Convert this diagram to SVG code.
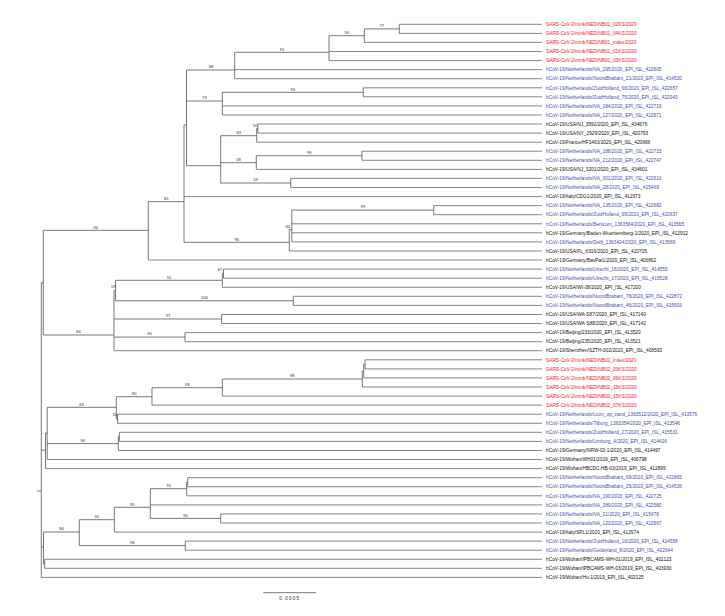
<svg xmlns="http://www.w3.org/2000/svg" width="725" height="616" viewBox="0 0 725 616">
<style>
.br{fill:none;stroke:#555;stroke-width:0.8}
.lf{fill:none;stroke:#666;stroke-width:0.8}
text{font-family:"Liberation Sans",Arial,sans-serif}
.t{font-size:4.8px}
.r{fill:#e8202a}
.b{fill:#3f51a8}
.k{fill:#111}
.s{font-size:4px;fill:#222;text-anchor:middle}
</style>
<rect width="725" height="616" fill="#fff"/>
<g id="connectors">
<path class="br" d="M399.3 24.3V33.4M364.3 28.9V42.4M329 35.7V60.6M234.7 52.3V78.7M363.3 87.8V96.8M222.3 92.3V115M257.8 124V133.1M256.7 128.5V142.2M362 151.2V160.3M256.3 155.7V169.4M290.7 178.4V187.5M220.7 135.7V183M186.5 70V165.7M184 125V242.3M433.7 205.6V214.7M291.8 210.1V241.9M289.3 229.7V251M148.3 201.7V260M223.5 269.1V278.2M222.3 273.7V287.3M293.3 296.3V305.4M115.5 280.3V300.8M221.7 314.5V323.5M185 332.6V341.7M114 290.5V350.7M43.3 230.3V335M365 359.8V368.9M363.7 364.3V377.9M362.3 371.1V387M222.3 379V396.1M152 387.7V405.1M117.5 414.2V423.3M116.3 396.7V418.7M119.3 432.3V441.4M118.3 436.8V450.5M47.2 407.3V459.5M45.5 433V468.6M187.7 477.7V486.7M186.7 482.2V495.8M220.7 513.9V523M150.3 488.7V518.4M114.3 507.3V532.1M185.3 541.1V550.2M79.3 519.7V545.6M44.7 559.3V568.3M43.5 532V563.8M41.3 282.7V577.4M36.7 491H41.3"/>
<path class="br" d="M364.3 28.9H399.3M329 35.7H364.3M234.7 52.3H329M186.5 70H234.7M222.3 92.3H363.3M186.5 101H222.3M256.7 128.5H257.8M220.7 135.7H256.7M256.3 155.7H362M220.7 162.7H256.3M220.7 183H290.7M186.5 165.7H220.7M184 125H186.5M291.8 210.1H433.7M289.3 229.7H291.8M184 242.3H289.3M148.3 201.7H184M43.3 230.3H148.3M222.3 273.7H223.5M115.5 280.3H222.3M115.5 300.8H293.3M114 290.5H115.5M114 319H221.7M114 337.1H185M43.3 335H114M41.3 282.7H43.3M363.7 364.3H365M362.3 371.1H363.7M222.3 379H362.3M152 387.7H222.3M116.3 396.7H152M116.3 418.7H117.5M47.2 407.3H116.3M118.3 436.8H119.3M47.2 443.6H118.3M45.5 433H47.2M41.3 450H45.5M186.7 482.2H187.7M150.3 488.7H186.7M150.3 518.4H220.7M114.3 507.3H150.3M79.3 519.7H114.3M79.3 545.6H185.3M43.5 532H79.3M43.5 563.8H44.7M41.3 547H43.5"/>
<path class="lf" d="M399.3 24.3H542M399.3 33.4H542M364.3 42.4H542M329 51.5H542M329 60.6H542M234.7 69.6H542M234.7 78.7H542M363.3 87.8H542M363.3 96.8H542M222.3 105.9H542M222.3 115H542M257.8 124H542M257.8 133.1H542M256.7 142.2H542M362 151.2H542M362 160.3H542M256.3 169.4H542M290.7 178.4H542M290.7 187.5H542M184 196.6H542M433.7 205.6H542M433.7 214.7H542M291.8 223.8H542M291.8 232.8H542M291.8 241.9H542M289.3 251H542M148.3 260H542M223.5 269.1H542M223.5 278.2H542M222.3 287.3H542M293.3 296.3H542M293.3 305.4H542M221.7 314.5H542M221.7 323.5H542M185 332.6H542M185 341.7H542M114 350.7H542M365 359.8H542M365 368.9H542M363.7 377.9H542M362.3 387H542M222.3 396.1H542M152 405.1H542M117.5 414.2H542M117.5 423.3H542M119.3 432.3H542M119.3 441.4H542M118.3 450.5H542M47.2 459.5H542M45.5 468.6H542M187.7 477.7H542M187.7 486.7H542M186.7 495.8H542M150.3 504.9H542M220.7 513.9H542M220.7 523H542M114.3 532.1H542M185.3 541.1H542M185.3 550.2H542M44.7 559.3H542M44.7 568.3H542M41.3 577.4H542"/>
</g>
<g id="support">
<text class="s" x="381.8" y="27.1">77</text>
<text class="s" x="346.7" y="33.9">54</text>
<text class="s" x="281.9" y="50.5">91</text>
<text class="s" x="210.9" y="68.2">68</text>
<text class="s" x="292.8" y="90.5">93</text>
<text class="s" x="204.5" y="99.2">73</text>
<text class="s" x="255" y="126.5">50</text>
<text class="s" x="238.7" y="133.9">63</text>
<text class="s" x="309.2" y="153.9">99</text>
<text class="s" x="238.5" y="160.9">58</text>
<text class="s" x="255.7" y="181.2">59</text>
<text class="s" x="166.2" y="199.9">65</text>
<text class="s" x="363" y="208.3">99</text>
<text class="s" x="288" y="227.9">65</text>
<text class="s" x="95.8" y="228.5">90</text>
<text class="s" x="236.7" y="240.5">96</text>
<text class="s" x="220" y="270.8">67</text>
<text class="s" x="169" y="278.5">55</text>
<text class="s" x="113.3" y="288.2">59</text>
<text class="s" x="204.4" y="299">100</text>
<text class="s" x="168" y="317.2">97</text>
<text class="s" x="149.5" y="335.3">94</text>
<text class="s" x="78.6" y="333.2">84</text>
<text class="s" x="292.3" y="377.2">98</text>
<text class="s" x="187.2" y="385.9">93</text>
<text class="s" x="134.2" y="394.9">80</text>
<text class="s" x="81.5" y="405.5">63</text>
<text class="s" x="114.7" y="416">55</text>
<text class="s" x="82.8" y="441.7">94</text>
<text class="s" x="168.5" y="486.9">74</text>
<text class="s" x="132.3" y="505.5">95</text>
<text class="s" x="185.5" y="516.6">90</text>
<text class="s" x="96.8" y="517.9">90</text>
<text class="s" x="61.5" y="530.2">84</text>
<text class="s" x="132.3" y="543.8">96</text>
</g>
<g id="scale">
<path class="br" d="M263.3 592.7H316"/>
<text x="289.7" y="599.5" style="font-size:4.5px;letter-spacing:1.2px;fill:#222;text-anchor:middle">0.0005</text>
</g>
<g id="leaf-1"><text class="t r" x="546" y="26">SARS-CoV-2/mink/NED/NB01_02KS/2020</text></g>
<g id="leaf-2"><text class="t r" x="546" y="35.1">SARS-CoV-2/mink/NED/NB01_04KS/2020</text></g>
<g id="leaf-3"><text class="t r" x="546" y="44.1">SARS-CoV-2/mink/NED/NB01_index/2020</text></g>
<g id="leaf-4"><text class="t r" x="546" y="53.2">SARS-CoV-2/mink/NED/NB01_01KS/2020</text></g>
<g id="leaf-5"><text class="t r" x="546" y="62.3">SARS-CoV-2/mink/NED/NB01_03KS/2020</text></g>
<g id="leaf-6"><text class="t b" x="546" y="71.3">hCoV-19/Netherlands/NA_295/2020_EPI_ISL_422605</text></g>
<g id="leaf-7"><text class="t b" x="546" y="80.4">hCoV-19/Netherlands/NoordBrabant_21/2020_EPI_ISL_414530</text></g>
<g id="leaf-8"><text class="t b" x="546" y="89.5">hCoV-19/Netherlands/ZuidHolland_66/2020_EPI_ISL_422657</text></g>
<g id="leaf-9"><text class="t b" x="546" y="98.5">hCoV-19/Netherlands/ZuidHolland_75/2020_EPI_ISL_422943</text></g>
<g id="leaf-10"><text class="t b" x="546" y="107.6">hCoV-19/Netherlands/NA_184/2020_EPI_ISL_422719</text></g>
<g id="leaf-11"><text class="t b" x="546" y="116.7">hCoV-19/Netherlands/NA_127/2020_EPI_ISL_422671</text></g>
<g id="leaf-12"><text class="t k" x="546" y="125.7">hCoV-19/USA/NJ_3592/2020_EPI_ISL_434676</text></g>
<g id="leaf-13"><text class="t k" x="546" y="134.8">hCoV-19/USA/NY_2929/2020_EPI_ISL_420793</text></g>
<g id="leaf-14"><text class="t k" x="546" y="143.9">hCoV-19/France/HF1463/2020_EPI_ISL_420969</text></g>
<g id="leaf-15"><text class="t b" x="546" y="152.9">hCoV-19/Netherlands/NA_188/2020_EPI_ISL_422733</text></g>
<g id="leaf-16"><text class="t b" x="546" y="162">hCoV-19/Netherlands/NA_212/2020_EPI_ISL_422747</text></g>
<g id="leaf-17"><text class="t k" x="546" y="171.1">hCoV-19/USA/NJ_3201/2020_EPI_ISL_434601</text></g>
<g id="leaf-18"><text class="t b" x="546" y="180.1">hCoV-19/Netherlands/NA_301/2020_EPI_ISL_422610</text></g>
<g id="leaf-19"><text class="t b" x="546" y="189.2">hCoV-19/Netherlands/NA_28/2020_EPI_ISL_415469</text></g>
<g id="leaf-20"><text class="t k" x="546" y="198.3">hCoV-19/Italy/CDG1/2020_EPI_ISL_412973</text></g>
<g id="leaf-21"><text class="t b" x="546" y="207.3">hCoV-19/Netherlands/NA_135/2020_EPI_ISL_422682</text></g>
<g id="leaf-22"><text class="t b" x="546" y="216.4">hCoV-19/Netherlands/ZuidHolland_69/2020_EPI_ISL_422637</text></g>
<g id="leaf-23"><text class="t b" x="546" y="225.5">hCoV-19/Netherlands/Berlicum_1363564/2020_EPI_ISL_413565</text></g>
<g id="leaf-24"><text class="t k" x="546" y="234.5">hCoV-19/Germany/Baden-Wuerttemberg-1/2020_EPI_ISL_412912</text></g>
<g id="leaf-25"><text class="t b" x="546" y="243.6">hCoV-19/Netherlands/Delft_1363424/2020_EPI_ISL_413589</text></g>
<g id="leaf-26"><text class="t k" x="546" y="252.7">hCoV-19/USA/FL_6316/2020_EPI_ISL_420705</text></g>
<g id="leaf-27"><text class="t k" x="546" y="261.7">hCoV-19/Germany/BavPat1/2020_EPI_ISL_406862</text></g>
<g id="leaf-28"><text class="t b" x="546" y="270.8">hCoV-19/Netherlands/Utrecht_16/2020_EPI_ISL_414555</text></g>
<g id="leaf-29"><text class="t b" x="546" y="279.9">hCoV-19/Netherlands/Utrecht_17/2020_EPI_ISL_415528</text></g>
<g id="leaf-30"><text class="t k" x="546" y="289">hCoV-19/USA/WI-08/2020_EPI_ISL_417200</text></g>
<g id="leaf-31"><text class="t b" x="546" y="298">hCoV-19/Netherlands/NoordBrabant_78/2020_EPI_ISL_422872</text></g>
<g id="leaf-32"><text class="t b" x="546" y="307.1">hCoV-19/Netherlands/NoordBrabant_46/2020_EPI_ISL_415603</text></g>
<g id="leaf-33"><text class="t k" x="546" y="316.2">hCoV-19/USA/WA-S87/2020_EPI_ISL_417140</text></g>
<g id="leaf-34"><text class="t k" x="546" y="325.2">hCoV-19/USA/WA-S88/2020_EPI_ISL_417142</text></g>
<g id="leaf-35"><text class="t k" x="546" y="334.3">hCoV-19/Beijing/233/2020_EPI_ISL_413520</text></g>
<g id="leaf-36"><text class="t k" x="546" y="343.4">hCoV-19/Beijing/235/2020_EPI_ISL_413521</text></g>
<g id="leaf-37"><text class="t k" x="546" y="352.4">hCoV-19/Shenzhen/SZTH-002/2020_EPI_ISL_406593</text></g>
<g id="leaf-38"><text class="t r" x="546" y="361.5">SARS-CoV-2/mink/NED/NB02_index/2020</text></g>
<g id="leaf-39"><text class="t r" x="546" y="370.6">SARS-CoV-2/mink/NED/NB02_03KS/2020</text></g>
<g id="leaf-40"><text class="t r" x="546" y="379.6">SARS-CoV-2/mink/NED/NB02_06KS/2020</text></g>
<g id="leaf-41"><text class="t r" x="546" y="388.7">SARS-CoV-2/mink/NED/NB02_16KS/2020</text></g>
<g id="leaf-42"><text class="t r" x="546" y="397.8">SARS-CoV-2/mink/NED/NB02_15KS/2020</text></g>
<g id="leaf-43"><text class="t r" x="546" y="406.8">SARS-CoV-2/mink/NED/NB02_07KS/2020</text></g>
<g id="leaf-44"><text class="t b" x="546" y="415.9">hCoV-19/Netherlands/Loon_op_zand_1363512/2020_EPI_ISL_413576</text></g>
<g id="leaf-45"><text class="t b" x="546" y="425">hCoV-19/Netherlands/Tilburg_1363354/2020_EPI_ISL_413546</text></g>
<g id="leaf-46"><text class="t b" x="546" y="434">hCoV-19/Netherlands/ZuidHolland_27/2020_EPI_ISL_415531</text></g>
<g id="leaf-47"><text class="t b" x="546" y="443.1">hCoV-19/Netherlands/Limburg_4/2020_EPI_ISL_414426</text></g>
<g id="leaf-48"><text class="t k" x="546" y="452.2">hCoV-19/Germany/NRW-02-1/2020_EPI_ISL_414497</text></g>
<g id="leaf-49"><text class="t k" x="546" y="461.2">hCoV-19/Wuhan/WH01/2019_EPI_ISL_406798</text></g>
<g id="leaf-50"><text class="t k" x="546" y="470.3">hCoV-19/Wuhan/HBCDC-HB-03/2019_EPI_ISL_412899</text></g>
<g id="leaf-51"><text class="t b" x="546" y="479.4">hCoV-19/Netherlands/NoordBrabant_69/2020_EPI_ISL_422665</text></g>
<g id="leaf-52"><text class="t b" x="546" y="488.4">hCoV-19/Netherlands/NoordBrabant_25/2020_EPI_ISL_414536</text></g>
<g id="leaf-53"><text class="t b" x="546" y="497.5">hCoV-19/Netherlands/NA_190/2020_EPI_ISL_422725</text></g>
<g id="leaf-54"><text class="t b" x="546" y="506.6">hCoV-19/Netherlands/NA_289/2020_EPI_ISL_422580</text></g>
<g id="leaf-55"><text class="t b" x="546" y="515.6">hCoV-19/Netherlands/NA_21/2020_EPI_ISL_415478</text></g>
<g id="leaf-56"><text class="t b" x="546" y="524.7">hCoV-19/Netherlands/NA_120/2020_EPI_ISL_422667</text></g>
<g id="leaf-57"><text class="t k" x="546" y="533.8">hCoV-19/Italy/SPL1/2020_EPI_ISL_412974</text></g>
<g id="leaf-58"><text class="t b" x="546" y="542.8">hCoV-19/Netherlands/ZuidHolland_16/2020_EPI_ISL_414558</text></g>
<g id="leaf-59"><text class="t b" x="546" y="551.9">hCoV-19/Netherlands/Gelderland_8/2020_EPI_ISL_422644</text></g>
<g id="leaf-60"><text class="t k" x="546" y="561">hCoV-19/Wuhan/IPBCAMS-WH-01/2019_EPI_ISL_402123</text></g>
<g id="leaf-61"><text class="t k" x="546" y="570">hCoV-19/Wuhan/IPBCAMS-WH-03/2019_EPI_ISL_403930</text></g>
<g id="leaf-62"><text class="t k" x="546" y="579.1">hCoV-19/Wuhan/Hu-1/2019_EPI_ISL_402125</text></g>
</svg>
